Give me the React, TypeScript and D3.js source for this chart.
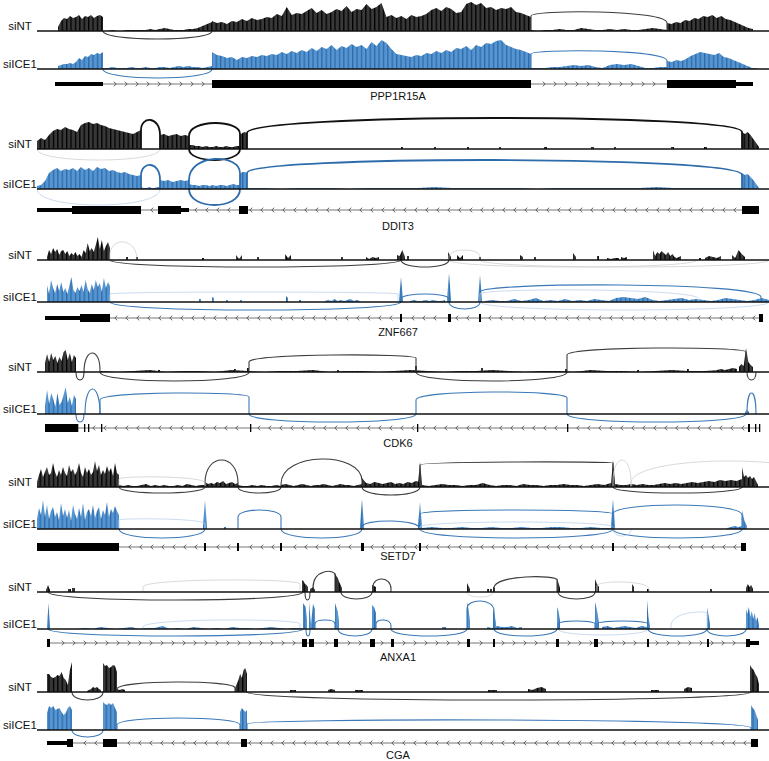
import React from 'react';
import * as d3 from 'd3';

// coverage segment: [start, end, evenly spaced values]
type Seg = [number, number, number[]];
// junction: [from, to, height at from, height at to, apex (negative = below axis), weight 0 faint / 1 / 2 thick]
type Arc = [number, number, number, number, number, number];
// exon: [start, end, 1 = utr, 2 = cds]
type Exon = [number, number, number];

// positions are relative coordinates across each locus window (0 - 732)
const geneNames = ['PPP1R15A', 'DDIT3', 'ZNF667', 'CDK6', 'SETD7', 'ANXA1', 'CGA'];
const strands = ['+', '-', '-', '-', '-', '+', '-'];
const sampleNames = ['siNT', 'siICE1'];

// ---- PPP1R15A ----
const pppNT: Seg[] = [
  [21, 66, [4, 10, 13, 12, 15, 13, 14, 16, 12, 15, 14, 16, 13, 15, 16, 14]],
  [66, 175, [0, 0, 1, 0, 0, 1, 1, 1, 1, 1, 2, 1, 2, 3, 2, 1, 1, 1, 2, 2, 3, 5, 7, 9]],
  [175, 494, [
    10, 8, 9, 7, 10, 9, 12, 10, 13, 11, 12, 14, 13, 17, 15, 24, 16, 18,
    17, 20, 23, 18, 21, 17, 19, 22, 20, 25, 19, 22, 21, 27, 22, 24, 28,
    14, 16, 13, 15, 12, 16, 14, 15, 17, 21, 23, 20, 24, 22, 18, 19, 27, 29, 26, 28, 23, 24, 21, 23, 22, 24, 19, 18, 16, 14]],
  [494, 630, [1, 0, 1, 1, 2, 1, 1, 3, 2, 1, 1, 2, 1, 2, 1, 1, 2, 3, 2, 1]],
  [630, 716, [8, 7, 9, 8, 11, 10, 13, 12, 15, 14, 16, 13, 15, 12, 11, 9, 7, 5, 3, 2]],
];
const pppICE: Seg[] = [
  [21, 66, [3, 4, 5, 5, 6, 5, 7, 11, 9, 13, 12, 15, 14, 16, 15, 17]],
  [66, 175, [1, 1, 2, 1, 1, 1, 2, 1, 1, 2, 1, 1, 2, 2, 1, 2, 3, 2, 3, 2, 2, 1, 2, 3]],
  [175, 494, [
    17, 14, 13, 11, 12, 9, 12, 11, 13, 12, 14, 13, 15, 14, 17, 15, 18, 16,
    19, 17, 21, 18, 22, 20, 24, 19, 23, 21, 25, 22, 24, 20, 27, 23, 29,
    26, 20, 15, 14, 13, 12, 14, 13, 16, 15, 18, 16, 19, 17, 21, 20, 23, 19, 24, 22, 26, 25, 28, 29, 24, 22, 20, 19, 17, 15]],
  [494, 630, [1, 1, 1, 2, 2, 3, 4, 3, 4, 2, 1, 4, 5, 4, 5, 3, 1, 1, 2, 2]],
  [630, 720, [8, 7, 9, 8, 10, 13, 15, 17, 16, 15, 14, 16, 12, 11, 9, 7, 5, 3, 1, 1]],
];
const pppArcsNT: Arc[] = [[66, 175, 0, 0, -8, 1], [494, 630, 15, 8, 19, 1]];
const pppArcsICE: Arc[] = [[66, 175, 0, 0, -9, 1], [494, 630, 15, 8, 18, 1]];
const pppExons: Exon[] = [[18, 66, 1], [175, 494, 2], [630, 699, 2], [699, 716, 1]];

// ---- DDIT3 ----
const ddiNT: Seg[] = [
  [0, 104, [8, 11, 9, 14, 18, 20, 19, 22, 20, 19, 17, 24, 26, 27, 25, 26, 24, 23, 21, 20, 19, 18, 17, 16, 15, 17, 19]],
  [123, 152, [14, 15, 13, 14, 15, 13, 14, 13]],
  [152, 203, [4, 4, 3, 3, 2, 3, 2, 2, 3, 2, 2, 3, 2, 2, 3, 3]],
  [203, 210, [14, 16, 17, 16]],
  [364, 366, [2, 2]], [397, 399, [2, 2]], [430, 432, [2, 2]], [462, 464, [2, 2]], [507, 510, [2, 2]],
  [554, 557, [2, 2]], [577, 579, [2, 2]], [634, 637, [2, 2]], [667, 670, [2, 2]],
  [705, 722, [17, 15, 17, 14, 10, 6, 2]],
];
const ddiICE: Seg[] = [
  [0, 104, [3, 4, 8, 16, 19, 21, 18, 20, 19, 21, 18, 22, 19, 21, 18, 22, 20, 21, 18, 19, 17, 16, 17, 15, 14, 13, 14]],
  [104, 123, [2, 1, 1, 2, 1, 1, 2, 2]],
  [123, 152, [9, 8, 9, 7, 8, 9, 8, 9]],
  [152, 203, [5, 4, 4, 3, 4, 4, 3, 4, 3, 4, 4, 3, 4, 5, 4, 4]],
  [203, 210, [15, 17, 17, 16]],
  [210, 705, [1, 1, 0, 1, 1, 1, 0, 1, 1, 1, 1, 2, 1, 1, 1, 1, 1, 0, 1, 1, 1, 1, 1, 1, 2, 1, 1, 1, 1, 1]],
  [705, 722, [16, 14, 15, 12, 9, 5, 1]],
];
const ddiArcsNT: Arc[] = [
  [104, 123, 19, 14, 29, 2], [152, 203, 13, 15, 26, 2], [152, 203, 0, 0, -11, 2],
  [210, 705, 16, 17, 31, 2], [0, 123, 0, 0, -11, 0],
];
const ddiArcsICE: Arc[] = [
  [104, 123, 13, 9, 24, 2], [152, 203, 9, 16, 30, 2], [152, 203, 0, 0, -16, 2],
  [210, 705, 16, 14, 29, 2], [0, 123, 0, 0, -16, 0],
];
const ddiExons: Exon[] = [[0, 35, 1], [35, 104, 2], [121, 144, 2], [144, 152, 1], [202, 211, 2], [705, 722, 2]];

// ---- ZNF667 ----
const znfNT: Seg[] = [
  [10, 73, [3, 10, 6, 12, 8, 11, 5, 9, 10, 6, 9, 4, 7, 5, 8, 4, 6, 3, 10, 7, 17, 9, 12, 8, 15, 23, 11, 20, 9, 14, 18, 12]],
  [89, 91, [3, 3]], [99, 101, [3, 3]], [165, 167, [2, 2]], [199, 205, [5, 1, 5]], [220, 222, [3, 3]],
  [248, 254, [6, 2, 5]], [304, 306, [3, 3]], [329, 342, [3, 1, 3, 2, 3]], [360, 368, [5, 4, 10, 3]],
  [370, 372, [4, 4]], [411, 414, [8, 3]], [420, 426, [5, 2, 5]], [442, 444, [3, 3]], [483, 486, [5, 3]],
  [497, 499, [3, 3]], [536, 539, [7, 3]], [560, 562, [4, 4]], [570, 582, [2, 1, 2, 2]], [584, 590, [3, 2, 3]],
  [616, 644, [10, 4, 8, 6, 9, 7, 5, 8, 4, 6, 3, 2, 3, 4]], [662, 664, [2, 2]], [668, 684, [2, 4, 3, 2, 4]],
  [695, 708, [5, 2, 10, 6, 3]],
];
const znfICE: Seg[] = [
  [10, 73, [17, 8, 22, 14, 9, 18, 11, 20, 10, 14, 8, 16, 25, 12, 9, 15, 11, 17, 10, 22, 13, 9, 18, 12, 22, 15, 19, 10, 24, 14, 20, 16]],
  [162, 164, [3, 3]], [175, 177, [5, 4]], [189, 191, [2, 2]], [203, 205, [2, 2]], [249, 251, [6, 4]],
  [262, 264, [2, 2]], [288, 323, [1, 2, 1, 3, 1, 2, 1, 2, 3, 1, 2, 1]], [362, 366, [2, 25, 2]],
  [373, 408, [1, 2, 1, 1, 2, 1, 2, 1, 1, 2]], [410, 414, [3, 29, 3]], [441, 445, [2, 27, 2]],
  [448, 732, [1, 2, 1, 1, 3, 1, 2, 4, 1, 2, 1, 3, 1, 2, 1, 3, 2, 1, 4, 5, 4, 3, 5, 2, 1, 2, 3, 4, 2, 3, 2, 1, 2, 4, 3, 2, 1, 2, 4, 2]],
];
const znfArcsNT: Arc[] = [
  [73, 100, 5, 0, 18, 0], [73, 364, 0, 0, -7, 1], [364, 412, 0, 0, -7, 1],
  [412, 443, 3, 3, 10, 0], [412, 660, 0, 0, -7, 0], [443, 732, 0, 0, -7, 0],
];
const znfArcsICE: Arc[] = [
  [73, 364, 0, 0, -8, 1], [364, 412, 3, 3, 8, 1], [412, 443, 0, 0, -7, 1], [443, 724, 10, 5, 17, 1],
  [73, 361, 8, 8, 10, 0], [443, 662, 8, 3, 12, 0], [443, 732, 0, 0, -8, 0],
];
const znfExons: Exon[] = [[8, 43, 1], [43, 73, 2], [363, 365, 2], [411, 414, 2], [442, 444, 2], [722, 726, 2]];

// ---- CDK6 ----
const cdkNT: Seg[] = [
  [8, 39, [9, 18, 10, 19, 12, 16, 9, 15, 11, 20, 22, 12, 19, 10, 17, 14]],
  [64, 700, [1, 0, 1, 2, 0, 1, 1, 0, 2, 1, 0, 1, 1, 2, 0, 1, 1, 0, 1, 2, 1, 0, 1, 1, 2, 1, 0, 1, 1, 0, 2, 1, 1, 0, 1, 2, 1, 1, 2, 1]],
  [121, 123, [2, 2]], [197, 199, [3, 3]], [210, 212, [4, 4]], [300, 302, [2, 2]], [378, 380, [6, 6]],
  [444, 446, [4, 4]], [528, 530, [3, 3]], [600, 602, [2, 2]], [650, 652, [3, 3]],
  [680, 700, [2, 3, 2, 3, 4, 3]], [702, 716, [5, 8, 6, 24, 10, 7, 5]],
];
const cdkICE: Seg[] = [
  [8, 39, [8, 24, 10, 21, 15, 7, 21, 9, 12, 19, 27, 11, 17, 8, 19, 15]],
  [708, 712, [2, 4, 2]],
];
const cdkArcsNT: Arc[] = [
  [39, 47, 0, 0, -8, 1], [47, 63, 0, 2, 19, 1], [63, 212, 0, 0, -9, 1], [212, 379, 10, 14, 17, 1],
  [379, 530, 0, 0, -9, 1], [530, 709, 17, 20, 24, 1], [710, 719, 0, 0, -8, 1],
];
const cdkArcsICE: Arc[] = [
  [39, 47, 0, 0, -8, 1], [48, 63, 0, 0, 25, 1], [63, 212, 14, 17, 21, 1], [212, 379, 0, 0, -8, 1],
  [379, 530, 14, 16, 22, 1], [530, 709, 0, 0, -8, 1], [710, 719, 0, 0, 21, 1],
];
const cdkExons: Exon[] = [
  [8, 40, 2], [40, 41, 2], [47, 48, 2], [51, 52, 2], [64, 65, 2], [213, 214, 2],
  [380, 381, 2], [530, 531, 2], [711, 713, 2], [718, 719, 2], [722, 723, 2],
];

// ---- SETD7 ----
const setNT: Seg[] = [
  [0, 82, [5, 12, 18, 10, 15, 20, 12, 14, 24, 15, 10, 17, 12, 20, 14, 11, 22, 15, 18, 12, 16, 24, 14, 10, 20, 14, 18, 12, 15, 26, 16, 22, 12, 17, 13, 21, 15, 19, 11, 24, 14, 12]],
  [82, 168, [2, 1, 2, 1, 1, 2, 3, 1, 2, 1, 2, 1, 1, 2, 1, 3, 2, 1, 2, 2]],
  [168, 201, [5, 3, 4, 3, 5, 4, 6, 3, 4, 5, 3, 4]],
  [201, 244, [2, 1, 1, 2, 1, 2, 1, 1, 2, 1]],
  [244, 325, [2, 3, 2, 1, 2, 3, 2, 1, 2, 2, 3, 2, 1, 2, 3, 2, 2, 1, 2, 3]],
  [325, 383, [9, 4, 3, 5, 4, 3, 4, 5, 3, 4, 3, 5, 4, 6, 5]],
  [381, 385, [3, 25, 4]],
  [385, 574, [2, 1, 2, 3, 2, 2, 1, 2, 2, 4, 2, 1, 2, 2, 1, 3, 2, 2, 1, 2, 2, 3, 2, 2, 1, 2, 3, 2, 4]],
  [574, 578, [3, 27, 5]],
  [578, 705, [3, 2, 2, 3, 2, 3, 2, 2, 3, 4, 3, 4, 3, 4, 5, 4, 5, 6, 5, 7, 6, 7, 6, 8]],
  [705, 721, [20, 10, 12, 9, 11, 8, 10, 6, 2]],
];
const setICE: Seg[] = [
  [0, 82, [10, 21, 14, 29, 12, 24, 10, 18, 22, 12, 17, 9, 26, 13, 20, 11, 19, 8, 24, 15, 10, 21, 12, 26, 9, 17, 20, 13, 24, 11, 18, 22, 10, 19, 14, 27, 12, 20, 16, 23, 18, 14]],
  [166, 170, [3, 29, 3]], [187, 189, [2, 2]], [323, 327, [3, 30, 3]], [381, 385, [3, 27, 3]],
  [385, 574, [1, 2, 1, 1, 2, 1, 1, 2, 1, 1, 2, 1, 1, 2, 2, 1, 1, 2, 1, 1]],
  [574, 578, [3, 30, 4]], [690, 705, [1, 2, 3, 2, 3]], [705, 710, [19, 8, 3]],
];
const setArcsNT: Arc[] = [
  [82, 168, 0, 0, -6, 1], [168, 201, 4, 4, 27, 1], [201, 244, 0, 0, -6, 1], [244, 325, 3, 6, 28, 1],
  [325, 383, 0, 0, -8, 1], [383, 576, 22, 24, 25, 1], [576, 705, 0, 0, -6, 1],
  [576, 594, 5, 5, 27, 0], [594, 800, 4, 0, 26, 0], [82, 168, 8, 4, 10, 0],
];
const setArcsICE: Arc[] = [
  [82, 168, 0, 0, -9, 1], [201, 244, 12, 12, 19, 1], [244, 325, 0, 0, -9, 1], [325, 383, 2, 0, 8, 1],
  [383, 576, 15, 15, 19, 1], [383, 576, 0, 0, -9, 1], [383, 576, 2, 2, 7, 0], [576, 705, 15, 14, 24, 1],
  [576, 705, 0, 0, -9, 1], [576, 594, 0, 0, -7, 0], [82, 168, 9, 5, 10, 0],
];
const setExons: Exon[] = [
  [0, 82, 2], [167, 169, 2], [200, 202, 2], [243, 245, 2], [324, 327, 2], [382, 384, 2], [575, 577, 2], [704, 709, 2],
];

// ---- ANXA1 ----
const anxNT: Seg[] = [
  [9, 13, [2, 7, 2]], [31, 34, [3, 3]], [35, 38, [4, 4]], [265, 271, [12, 11, 8, 7, 5]], [273, 278, [3, 4, 5, 2]],
  [298, 305, [19, 16, 14, 10, 7, 4]], [335, 339, [7, 6, 5]], [430, 433, [9, 6, 3]], [450, 452, [3, 3]],
  [453, 455, [3, 3]], [456, 458, [5, 4]], [520, 523, [14, 9, 4]], [558, 562, [13, 8, 5]], [595, 597, [8, 5]],
  [610, 612, [3, 3]], [673, 675, [3, 3]], [709, 716, [4, 8, 5, 7, 3]],
];
const anxICE: Seg[] = [
  [10, 13, [3, 26, 2]],
  [40, 265, [0, 1, 0, 2, 1, 0, 1, 2, 0, 1, 1, 3, 0, 1, 0, 2, 1, 0, 1, 0, 2, 1, 1, 0, 1, 2, 1, 0, 1, 1]],
  [266, 270, [26, 24, 22, 10]], [272, 278, [27, 5, 25, 20]], [298, 302, [26, 22, 18, 8]], [335, 339, [24, 22, 16]],
  [405, 409, [2, 2]], [430, 433, [27, 20, 8]], [450, 485, [2, 1, 3, 2, 2, 3, 1, 2]], [456, 459, [20, 15, 6]],
  [520, 523, [22, 18, 8]], [558, 562, [27, 22, 15, 6]], [565, 610, [2, 3, 1, 2, 3, 2, 1, 3, 2]],
  [610, 613, [29, 12, 3]], [670, 673, [22, 14, 5]], [709, 722, [20, 15, 22, 12, 18, 10, 16, 8, 12, 4]],
];
const anxArcsNT: Arc[] = [
  [11, 266, 0, 0, -8, 1], [106, 263, 5, 8, 12, 0], [268, 273, 0, 0, -8, 1], [276, 298, 4, 17, 20, 1],
  [304, 335, 0, 0, -7, 1], [336, 354, 5, 3, 13, 1], [430, 456, 0, 0, -5, 0], [457, 520, 4, 12, 15, 1],
  [521, 558, 0, 0, -7, 1], [560, 612, 6, 3, 10, 0],
];
const anxArcsICE: Arc[] = [
  [11, 266, 0, 0, -7, 1], [106, 263, 2, 5, 9, 0], [269, 273, 0, 0, -7, 1], [278, 298, 5, 5, 9, 1],
  [301, 335, 0, 0, -7, 1], [339, 354, 5, 3, 9, 1], [354, 430, 0, 0, -7, 1], [430, 457, 20, 18, 28, 1],
  [457, 520, 0, 0, -7, 1], [521, 558, 5, 5, 8, 1], [560, 611, 5, 5, 8, 1], [521, 611, 0, 0, -6, 0],
  [611, 670, 0, 0, -7, 1], [670, 709, 0, 0, -7, 1], [634, 670, 3, 16, 16, 0],
];
const anxExons: Exon[] = [
  [10, 13, 2], [265, 270, 2], [272, 277, 2], [297, 301, 2], [333, 338, 2], [354, 357, 2], [430, 433, 2],
  [456, 458, 2], [519, 522, 2], [557, 561, 2], [610, 612, 2], [670, 672, 2], [709, 713, 2], [713, 722, 1],
];

// ---- CGA ----
const cgaNT: Seg[] = [
  [10, 35, [18, 18, 15, 14, 15, 17, 16, 20, 14, 12, 7, 22, 30]], [50, 64, [1, 2, 3, 5, 4, 5, 3, 2]],
  [66, 80, [29, 26, 27, 24, 25, 27, 26, 20]], [80, 88, [3, 2, 3, 2]], [198, 210, [4, 8, 12, 18, 14, 22, 24, 18]],
  [253, 259, [2, 2]], [291, 298, [2, 3, 2]], [318, 326, [2, 2]], [451, 460, [2, 2]], [491, 509, [3, 2, 4, 5, 3]],
  [614, 622, [2, 2]], [647, 655, [3, 5, 4]], [713, 722, [27, 24, 22, 18, 15, 8]],
];
const cgaICE: Seg[] = [
  [10, 35, [17, 24, 22, 24, 20, 21, 22, 18, 15, 17, 22, 24, 20]], [66, 80, [28, 26, 25, 27, 25, 27, 22, 18]],
  [203, 210, [18, 22, 20, 18, 20]], [714, 721, [25, 22, 20, 15, 10]],
];
const cgaArcsNT: Arc[] = [[35, 66, 0, 0, -8, 1], [80, 198, 3, 4, 10, 1], [210, 714, 0, 0, -8, 1]];
const cgaArcsICE: Arc[] = [[35, 66, 0, 0, -7, 1], [80, 203, 5, 5, 12, 1], [210, 714, 6, 2, 10, 1]];
const cgaExons: Exon[] = [[10, 30, 1], [30, 36, 2], [66, 80, 2], [204, 210, 2], [714, 721, 2]];

const coverage = [[pppNT, pppICE], [ddiNT, ddiICE], [znfNT, znfICE], [cdkNT, cdkICE], [setNT, setICE], [anxNT, anxICE], [cgaNT, cgaICE]];
const junctions = [[pppArcsNT, pppArcsICE], [ddiArcsNT, ddiArcsICE], [znfArcsNT, znfArcsICE], [cdkArcsNT, cdkArcsICE], [setArcsNT, setArcsICE], [anxArcsNT, anxArcsICE], [cgaArcsNT, cgaArcsICE]];
const exonSets = [pppExons, ddiExons, znfExons, cdkExons, setExons, anxExons, cgaExons];

// layout: [siNT axis, siICE1 axis, gene model, gene label]
const rows = [
  [31, 69, 84, 100],
  [149, 189, 210, 230],
  [260, 302, 318, 336],
  [372, 414, 428, 447],
  [487, 529, 547, 560],
  [592, 629, 643, 661],
  [692, 730, 743, 759],
];

const palette = [
  { fill: '#383838', stripe: '#000000', arc: '#3c3c3c', thick: '#111111', faint: '#cfcfcf' },
  { fill: '#5596d2', stripe: '#2f6aa8', arc: '#3a78b8', thick: '#2d6bab', faint: '#bcd2ea' },
];

const FONT = '"Liberation Sans", Arial, Helvetica, sans-serif';

export default function App() {
  const W = 769;
  const H = 761;
  const x = d3.scaleLinear().domain([0, 732]).range([37, 769]);
  const cov = d3.scaleLinear().domain([0, 30]).range([0, 30]);

  const segPoints = (s: Seg): [number, number][] => {
    const [a, b, v] = s;
    if (v.length === 1) return [[a, v[0]], [b, v[0]]];
    const step = (b - a) / (v.length - 1);
    return v.map((d, i) => [a + i * step, d] as [number, number]);
  };

  const arcPath = (a: Arc, base: number) => {
    const [f, t, h0, h1, apex] = a;
    const x1 = x(f);
    const x2 = x(t);
    const c = (apex - 0.125 * (h0 + h1)) / 0.75;
    const p = d3.path();
    p.moveTo(x1, base);
    p.lineTo(x1, base - cov(h0));
    p.bezierCurveTo(x1, base - cov(c), x2, base - cov(c), x2, base - cov(h1));
    p.lineTo(x2, base);
    return p.toString();
  };

  return (
    <svg width={W} height={H} style={{ position: 'absolute', left: 0, top: 0, background: '#fff' }}>
      <defs>
        {palette.map((c, i) => (
          <pattern key={i} id={`stripe${i}`} width={4.4} height={10} patternUnits="userSpaceOnUse">
            <rect width={4.4} height={10} fill={c.fill} />
            <rect width={1.3} height={10} fill={c.stripe} />
          </pattern>
        ))}
      </defs>
      {geneNames.map((name, gi) => {
        const [b0, b1, gy, ly] = rows[gi];
        const bases = [b0, b1];
        const exons = exonSets[gi];
        const first = d3.min(exons, (e) => e[0]) as number;
        const last = d3.max(exons, (e) => e[1]) as number;
        const chevrons = d3.range(first + 5, last - 3, 11).filter(
          (p) => !exons.some((e) => p >= e[0] - 2 && p <= e[1] + 2)
        );
        const dir = strands[gi] === '+' ? 1 : -1;
        return (
          <g key={name}>
            {bases.map((base, si) => {
              const c = palette[si];
              const area = d3
                .area<[number, number]>()
                .x((d) => x(d[0]))
                .y0(base)
                .y1((d) => base - cov(d[1]));
              return (
                <g key={si}>
                  {coverage[gi][si].map((s, k) => (
                    <path key={k} d={area(segPoints(s)) || ''} fill={`url(#stripe${si})`} />
                  ))}
                  {junctions[gi][si].map((a, k) => (
                    <path
                      key={`a${k}`}
                      d={arcPath(a, base)}
                      fill="none"
                      stroke={a[5] === 0 ? c.faint : a[5] === 2 ? c.thick : c.arc}
                      strokeWidth={a[5] === 0 ? 0.8 : a[5] === 2 ? 1.8 : 1.1}
                    />
                  ))}
                  <line x1={x(0)} x2={W} y1={base} y2={base} stroke="#111" strokeWidth={1.5} />
                  <text
                    x={20}
                    y={base - 1}
                    textAnchor="middle"
                    fontFamily={FONT}
                    fontSize={11.5}
                    fill="#111"
                  >
                    {sampleNames[si]}
                  </text>
                </g>
              );
            })}
            <line x1={x(first)} x2={x(last)} y1={gy} y2={gy} stroke="#777" strokeWidth={1} />
            {chevrons.map((p, k) => {
              const cx = x(p);
              return (
                <path
                  key={`c${k}`}
                  d={`M${cx - 1.3 * dir},${gy - 2.3}L${cx + 1.2 * dir},${gy}L${cx - 1.3 * dir},${gy + 2.3}`}
                  fill="none"
                  stroke="#444"
                  strokeWidth={0.8}
                />
              );
            })}
            {exons.map((e, k) => {
              const hh = e[2] === 2 ? 8 : 4;
              return (
                <rect
                  key={`e${k}`}
                  x={x(e[0])}
                  y={gy - hh / 2}
                  width={Math.max(1.3, x(e[1]) - x(e[0]))}
                  height={hh}
                  fill="#000"
                />
              );
            })}
            <text x={398} y={ly} textAnchor="middle" fontFamily={FONT} fontSize={11} fill="#111">
              {name}
            </text>
          </g>
        );
      })}
    </svg>
  );
}
